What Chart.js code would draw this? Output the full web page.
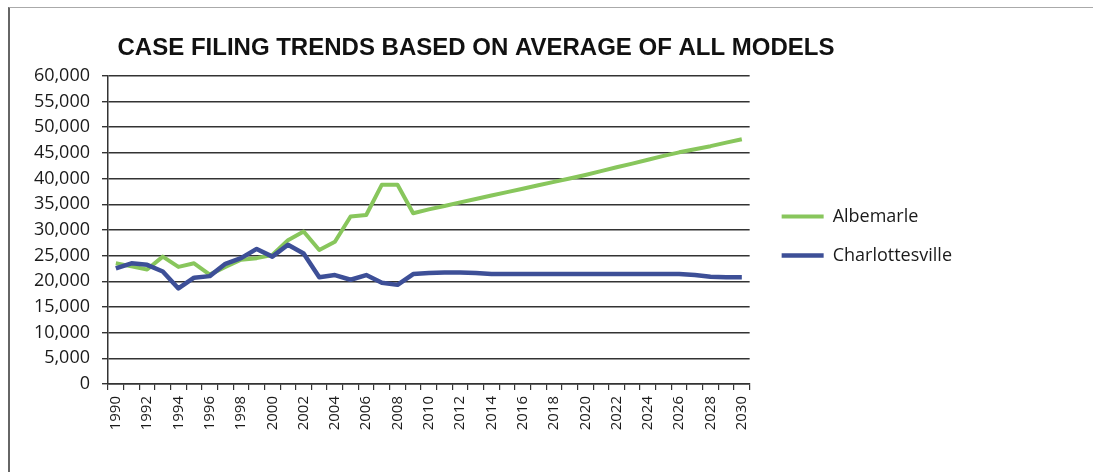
<!DOCTYPE html>
<html>
<head>
<meta charset="utf-8">
<script src="https://cdn.jsdelivr.net/npm/chart.js@4"></script>
<style>
  html, body { margin: 0; padding: 0; background: #fff; overflow: hidden; }
  #wrap { position: relative; width: 1093px; height: 472px; }
  #frame { position: absolute; left: 8px; top: 7px; right: 0; bottom: 0;
           border-left: 2px solid #666; border-top: 1px solid #aaa; }
  canvas { position: absolute; left: 0; top: 0; }
</style>
</head>
<body>
<div id="wrap">
  <div id="frame"></div>
  <canvas id="chart" width="1093" height="472"></canvas>
</div>
<script>
// ── Data ──
const years = [];
for (let y = 1990; y <= 2030; y++) years.push(String(y));

const albemarle = [
    23500, 22900, 22300, 24800, 22800, 23500, 21300, 22800, 24200, 24500,
    25100, 28000, 29700, 26100, 27700, 32600, 32900, 38800, 38800, 33250,
    34000, 34650, 35350, 36000, 36700, 37350, 38000, 38700, 39350, 40000,
    40700, 41450, 42200, 42900, 43650, 44400, 45100, 45700, 46300, 47000,
    47650
];
const charlottesville = [
    22500, 23500, 23200, 21900, 18600, 20700, 21000, 23400, 24500, 26300,
    24800, 27100, 25400, 20800, 21200, 20300, 21200, 19700, 19300, 21400,
    21600, 21700, 21700, 21600, 21400, 21400, 21400, 21400, 21400, 21400,
    21400, 21400, 21400, 21400, 21400, 21400, 21400, 21200, 20900, 20800,
    20800
];

const yTicks = { min: 0, max: 60000, step: 5000 };

const GREEN = '#88C65C';
const BLUE = '#3D4F97';
const FONT = "'Open Sans', 'Liberation Sans', sans-serif";

// legend sits a little away from the plot edge, like the original sheet
const legendNudge = {
    id: 'legendNudge',
    afterLayout(chart) {
        chart.legend.left += 11;
        chart.legend.right += 11;
    }
};

new Chart(document.getElementById('chart'), {
    type: 'line',
    data: {
        labels: years,
        datasets: [
            { label: 'Albemarle', data: albemarle, borderColor: GREEN, backgroundColor: GREEN,
              borderWidth: 4, pointRadius: 0, tension: 0, order: 1, borderJoinStyle: 'round' },
            { label: 'Charlottesville', data: charlottesville, borderColor: BLUE, backgroundColor: BLUE,
              borderWidth: 4.5, pointRadius: 0, tension: 0, order: 0, borderJoinStyle: 'round' }
        ]
    },
    options: {
        responsive: false,
        animation: false,
        layout: { padding: { left: 1, right: 142, top: 0, bottom: 0 } },
        plugins: {
            title: {
                display: true,
                text: 'CASE FILING TRENDS BASED ON AVERAGE OF ALL MODELS',
                color: '#111',
                font: { family: "'Liberation Sans', Arial, sans-serif", size: 24, weight: 'bold', lineHeight: 1.2 },
                padding: { top: 34, bottom: 13 }
            },
            legend: {
                position: 'right',
                align: 'center',
                labels: {
                    usePointStyle: true, pointStyle: 'line', pointStyleWidth: 42,
                    padding: 21, color: '#1a1a1a',
                    font: { family: FONT, size: 18 },
                    sort: (a, b) => a.datasetIndex - b.datasetIndex
                }
            },
            tooltip: { enabled: false }
        },
        scales: {
            x: {
                offset: true,
                grid: { display: true, drawOnChartArea: false, drawTicks: true, tickLength: 6, offset: true, color: '#333', lineWidth: 1.2 },
                border: { display: true, color: '#333', width: 1.5 },
                ticks: {
                    autoSkip: false, minRotation: 90, maxRotation: 90, padding: 6,
                    color: '#1a1a1a', font: { family: FONT, size: 15 },
                    callback: (v, i) => (i % 2 === 0 ? years[i] : '')
                },
                afterFit: s => { s.height = 88; }
            },
            y: {
                min: yTicks.min, max: yTicks.max,
                grid: { color: '#333', lineWidth: 1.4, tickLength: 6, drawTicks: true },
                border: { display: true, color: '#333', width: 1.5 },
                ticks: {
                    stepSize: yTicks.step, padding: 12, color: '#1a1a1a',
                    font: { family: FONT, size: 18 },
                    callback: v => v.toLocaleString('en-US')
                },
                afterFit: s => { s.width = 107; }
            }
        }
    },
    plugins: [legendNudge]
});
</script>
</body>
</html>
